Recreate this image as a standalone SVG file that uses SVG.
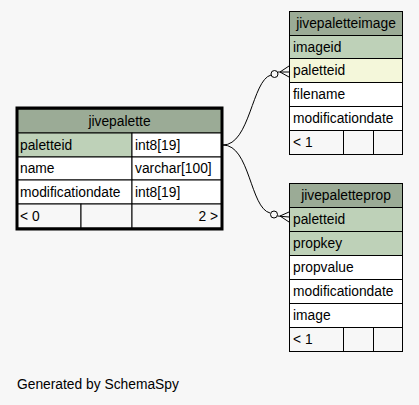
<svg xmlns="http://www.w3.org/2000/svg" width="419" height="405" viewBox="0 0 419 405">
<style>
text{font-family:"Liberation Sans",Arial,Helvetica,sans-serif;font-size:13.8px;fill:#000}
.h{fill:#9bab96}.pk{fill:#bed1b8}.ix{fill:#f4f7da}.w{fill:#ffffff}.f{fill:#f7f7f7}
.c{stroke:#000;stroke-width:1}
.edge{fill:none;stroke:#000;stroke-width:1}
.mid{text-anchor:middle}.end{text-anchor:end}
</style>
<rect width="419" height="405" fill="#f7f7f7"/>
<g id="connectors">
<path class="edge" d="M223,145 C250,145 252,80 271,75"/>
<circle class="edge" cx="274.5" cy="74" r="3.5" fill="#fff"/>
<path class="edge" d="M278,72 L289,72 M280,72 L289,66 M280,72 L289,77"/>
<path class="edge" d="M223,145 C250,145 250,208 270,213"/>
<circle class="edge" cx="274" cy="214.5" r="3.5" fill="#fff"/>
<path class="edge" d="M277.5,216 L289,217 M280,216 L289,212 M280,216 L289,222"/>
</g>
<g id="jivepalette">
<rect class="h c" x="17" y="109" width="205" height="24"/>
<rect class="pk c" x="17" y="133" width="115" height="24"/>
<rect class="w c" x="132" y="133" width="90" height="24"/>
<rect class="w c" x="17" y="157" width="115" height="23"/>
<rect class="w c" x="132" y="157" width="90" height="23"/>
<rect class="w c" x="17" y="180" width="115" height="24"/>
<rect class="w c" x="132" y="180" width="90" height="24"/>
<rect class="f c" x="17" y="204" width="64" height="24"/>
<rect class="f c" x="81" y="204" width="51" height="24"/>
<rect class="f c" x="132" y="204" width="90" height="24"/>
<rect x="17" y="108" width="205" height="121" fill="none" stroke="#000" stroke-width="3"/>
<text class="mid" x="119.5" y="126">jivepalette</text>
<text x="20" y="150">paletteid</text>
<text x="135" y="150">int8[19]</text>
<text x="20" y="173">name</text>
<text x="135" y="173">varchar[100]</text>
<text x="20" y="197">modificationdate</text>
<text x="135" y="197">int8[19]</text>
<text x="20" y="221">&lt; 0</text>
<text class="end" x="218" y="221">2 &gt;</text>
</g>
<g id="jivepaletteimage">
<rect class="h c" x="289.5" y="11.5" width="113" height="24"/>
<rect class="pk c" x="289.5" y="35.5" width="113" height="23"/>
<rect class="ix c" x="289.5" y="58.5" width="113" height="24"/>
<rect class="w c" x="289.5" y="82.5" width="113" height="24"/>
<rect class="w c" x="289.5" y="106.5" width="113" height="24"/>
<rect class="f c" x="289.5" y="130.5" width="54" height="24"/>
<rect class="f c" x="343.5" y="130.5" width="30" height="24"/>
<rect class="f c" x="373.5" y="130.5" width="29" height="24"/>
<text class="mid" x="346" y="28">jivepaletteimage</text>
<text x="293" y="52">imageid</text>
<text x="293" y="75">paletteid</text>
<text x="293" y="99">filename</text>
<text x="293" y="123">modificationdate</text>
<text x="293" y="147">&lt; 1</text>
</g>
<g id="jivepaletteprop">
<rect class="h c" x="289.5" y="183.5" width="113" height="24"/>
<rect class="pk c" x="289.5" y="207.5" width="113" height="24"/>
<rect class="pk c" x="289.5" y="231.5" width="113" height="24"/>
<rect class="w c" x="289.5" y="255.5" width="113" height="24"/>
<rect class="w c" x="289.5" y="279.5" width="113" height="24"/>
<rect class="w c" x="289.5" y="303.5" width="113" height="24"/>
<rect class="f c" x="289.5" y="327.5" width="54" height="24"/>
<rect class="f c" x="343.5" y="327.5" width="30" height="24"/>
<rect class="f c" x="373.5" y="327.5" width="29" height="24"/>
<text class="mid" x="346" y="200">jivepaletteprop</text>
<text x="293" y="224">paletteid</text>
<text x="293" y="248">propkey</text>
<text x="293" y="272">propvalue</text>
<text x="293" y="296">modificationdate</text>
<text x="293" y="320">image</text>
<text x="293" y="344">&lt; 1</text>
</g>
<text x="17" y="389">Generated by SchemaSpy</text>
</svg>
